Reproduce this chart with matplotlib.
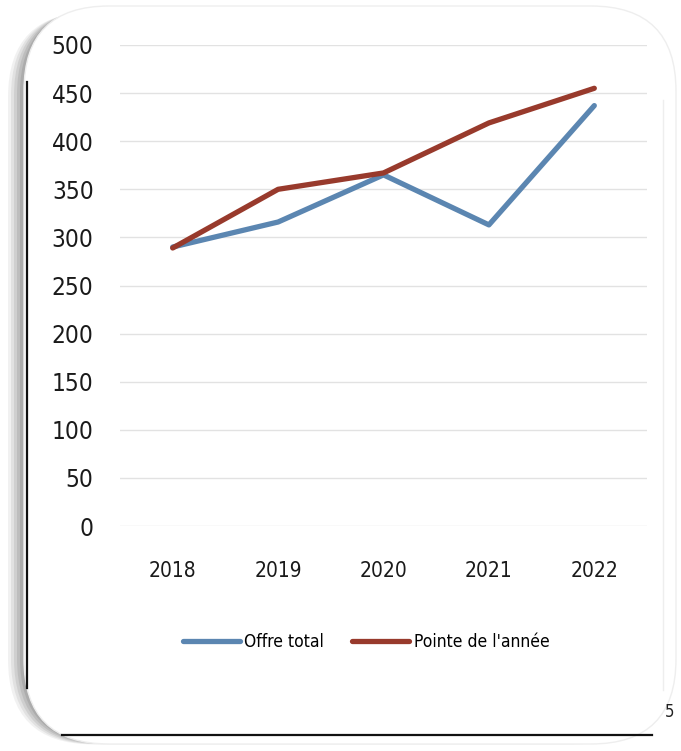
import matplotlib
matplotlib.use("Agg")
import matplotlib.pyplot as plt
from matplotlib.patches import FancyBboxPatch

years = ["2018", "2019", "2020", "2021", "2022"]
offre_total = [290, 316, 365, 313, 437]
pointe_annee = [289, 350, 367, 419, 455]
y_ticks = [0, 50, 100, 150, 200, 250, 300, 350, 400, 450, 500]

BLUE = "#5b86b1"
RED = "#983a2c"
plt.rcParams["font.family"] = ["DejaVu Sans"]
plt.rcParams["font.stretch"] = "condensed"

W, H = 681, 751
fig = plt.figure(figsize=(W / 100, H / 100), dpi=100)
fig.patch.set_facecolor("white")

# background card with shadow, pixel coordinates
bg = fig.add_axes([0, 0, 1, 1], zorder=0)
bg.set_xlim(0, W)
bg.set_ylim(H, 0)
bg.axis("off")
for i, a in enumerate([0.08, 0.10, 0.12, 0.14, 0.16]):
    off = 14 - i * 3
    sh = FancyBboxPatch((22 - off, 8 + off * 0.3), 650, 735 - off * 0.2,
                        boxstyle="round,pad=0,rounding_size=85",
                        fc="#555555", ec="none", alpha=a)
    bg.add_patch(sh)
card = FancyBboxPatch((24, 6), 652, 738, boxstyle="round,pad=0,rounding_size=85",
                      fc="white", ec="#eeeeee", lw=1)
bg.add_patch(card)
bg.plot([27, 27], [82, 688], color="#111111", lw=1.6)
bg.plot([62, 652], [735, 735], color="#111111", lw=1.6)
bg.plot([663, 663], [100, 690], color="#eeeeee", lw=1)
bg.text(665, 712, "5", fontsize=12, va="center", ha="left", color="#222222")

# main chart
ax = fig.add_axes([120 / W, 1 - 526 / H, 527 / W, (526 - 45) / H], zorder=2)
ax.set_facecolor("none")
x = range(len(years))
ax.plot(x, offre_total, color=BLUE, lw=3.8, solid_capstyle="round",
        solid_joinstyle="round", label="Offre total")
ax.plot(x, pointe_annee, color=RED, lw=3.8, solid_capstyle="round",
        solid_joinstyle="round", label="Pointe de l'année")
ax.set_xlim(-0.5, len(years) - 0.5)
ax.set_ylim(0, 500)
ax.set_yticks(y_ticks)
ax.set_yticklabels([str(v) for v in y_ticks], fontsize=17.5, color="#1a1a1a")
ax.set_xticks(list(x))
ax.set_xticklabels(years, fontsize=15, color="#1a1a1a")
ax.tick_params(axis="y", length=0, pad=19)
ax.tick_params(axis="x", length=0, pad=25)
ax.grid(axis="y", color="#e2e2e2", lw=1)
ax.set_axisbelow(True)
for s in ax.spines.values():
    s.set_visible(False)

fig.legend(loc="center", bbox_to_anchor=(366 / W, 1 - 642 / H), ncol=2,
           frameon=False, fontsize=12.5, handlelength=3.3, handletextpad=0.25,
           columnspacing=1.6)

fig.savefig("out.png", dpi=100)
